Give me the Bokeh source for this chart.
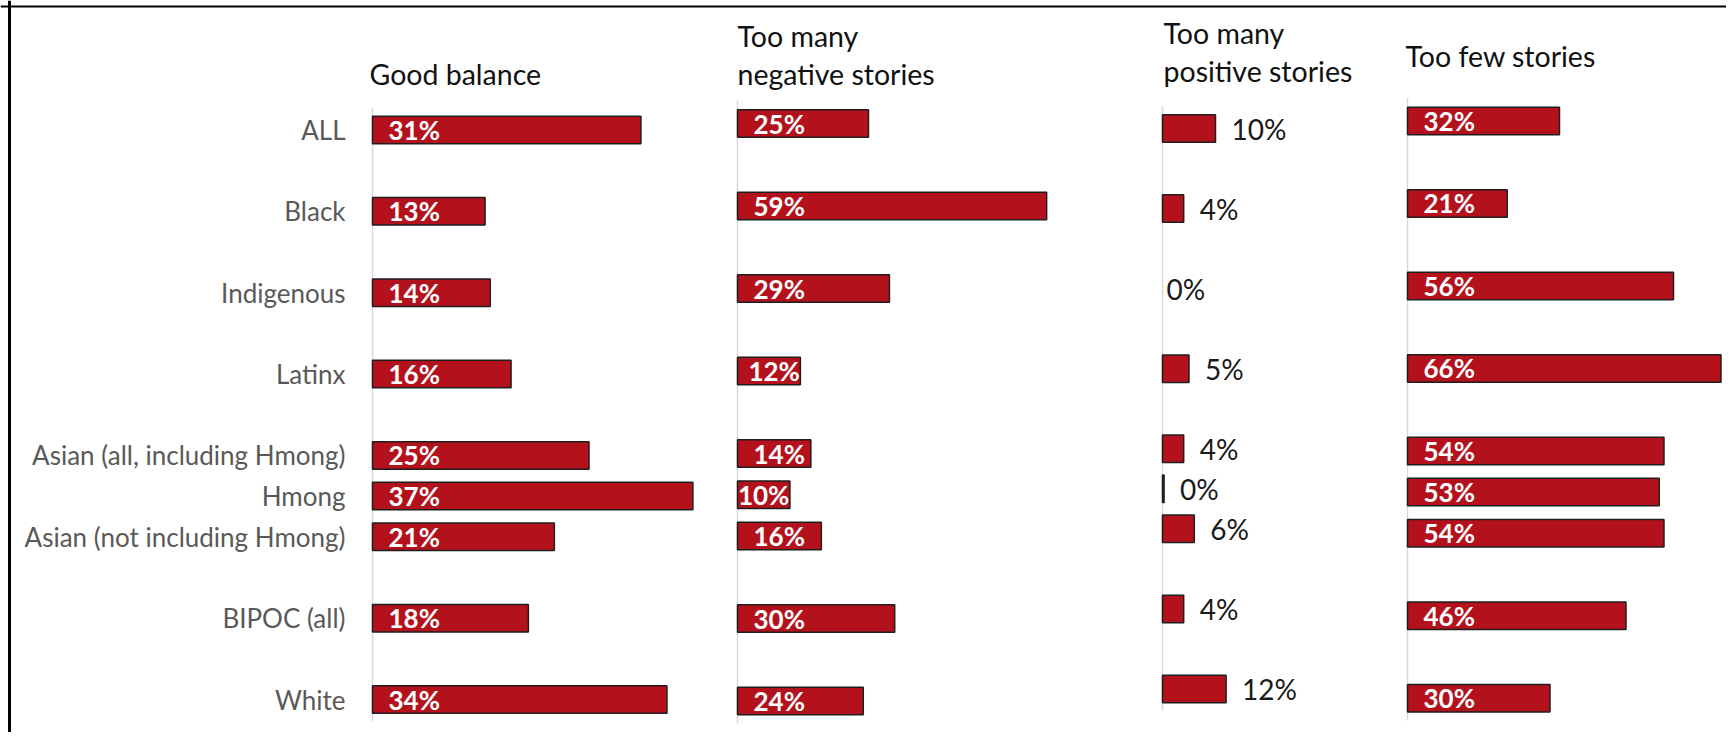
from bokeh.plotting import figure
from bokeh.models import Range1d, ColumnDataSource, Span
from bokeh.embed import file_html
from bokeh.resources import INLINE
from bokeh.core.properties import value

# ---------------- data ----------------
groups = ["ALL", "Black", "Indigenous", "Latinx", "Asian (all, including Hmong)",
          "Hmong", "Asian (not including Hmong)", "BIPOC (all)", "White"]
good_balance = [31, 13, 13.6, 16, 25, 37, 21, 18, 34]
too_many_negative = [25, 59, 29, 12, 14, 10, 16, 30, 24]
too_many_positive = [10, 4, 0, 5, 4, 0.3, 6, 4, 12]
too_few_stories = [32, 21, 56, 66, 54, 53, 54, 46, 30]
titles = [["Good balance"], ["Too many", "negative stories"],
          ["Too many", "positive stories"], ["Too few stories"]]

# ---------------- layout ----------------
slots = [0, 1, 2, 3, 4, 4.5, 5, 6, 7]      # vertical slot of each group
W, H = 1726, 732
M = 0
FONT = "Lato"
BAR_FILL = "#B3121D"
BAR_LINE = "#1f1f1f"
panels = [
    dict(vals=good_balance, ax=372, k=8.66, y0=129.5, y7=699.0, tx=-3, ty=[73], inside=True),
    dict(vals=too_many_negative, ax=737, k=5.24, y0=123.0, y7=700.6, tx=0, ty=[35, 73], inside=True),
    dict(vals=too_many_positive, ax=1162, k=5.3, y0=128.0, y7=688.5, tx=1, ty=[32, 70], inside=False),
    dict(vals=too_few_stories, ax=1407, k=4.75, y0=120.5, y7=697.8, tx=-2, ty=[55], inside=True),
]
BAR_H = 27.5
PAD_IN = 16
LABEL_W = 52
PAD_OUT = 16

p = figure(width=W, height=H, output_backend="svg", toolbar_location=None,
           x_axis_type=None, y_axis_type=None,
           x_range=Range1d(0, W), y_range=Range1d(H, 0), min_border=0)
p.grid.visible = False
p.outline_line_color = None
p.background_fill_color = "white"
p.border_fill_color = "white"

# outer frame (left and top edges visible in the reference)
p.add_layout(Span(location=9, dimension="height", line_color="black", line_width=3))
p.add_layout(Span(location=6, dimension="width", line_color="black", line_width=2))

for i, pn in enumerate(panels):
    xr, yr = f"x{i}", f"y{i}"
    ax_f = pn["ax"] - M
    k = pn["k"]
    sp = (pn["y7"] - pn["y0"]) / 7.0
    top_px = pn["y0"] - M
    s_top = -top_px / sp
    s_bot = s_top + H / sp
    p.extra_x_ranges[xr] = Range1d(start=-ax_f / k, end=(W - ax_f) / k)
    p.extra_y_ranges[yr] = Range1d(start=s_bot, end=s_top)

    vals = pn["vals"]
    labels = [f"{round(v)}%" for v in vals]
    line_alpha = [0.0 if v == 0 else 1.0 for v in vals]
    if pn["inside"]:
        fits = [v * k >= PAD_IN + LABEL_W for v in vals]
        lx = [0 if f else v for f, v in zip(fits, vals)]
        loff = [PAD_IN if f else -LABEL_W for f in fits]
    else:
        lx = list(vals)
        loff = [PAD_OUT if v > 0 else 4 for v in vals]
    src = ColumnDataSource(dict(slot=slots, v=vals, group=groups, lab=labels,
                                la=line_alpha, lx=lx, loff=loff))

    # axis line
    p.segment(x0=0, x1=0, y0=-0.28, y1=7.27, line_color="#d9d9d9", line_width=1.5,
              x_range_name=xr, y_range_name=yr)
    # bars
    p.hbar(y="slot", left=0, right="v", height=BAR_H / sp, source=src,
           fill_color=BAR_FILL, line_color=BAR_LINE, line_width=1.5, line_alpha="la",
           x_range_name=xr, y_range_name=yr)
    # value labels
    if pn["inside"]:
        p.text(x="lx", y="slot", text="lab", x_offset="loff", source=src,
               text_font=value(FONT), text_font_style="bold", text_font_size="26px",
               text_color="white", text_align="left", text_baseline="middle",
               x_range_name=xr, y_range_name=yr)
    else:
        p.text(x="lx", y="slot", text="lab", x_offset="loff", source=src,
               text_font=value(FONT), text_font_size="28px",
               text_color="#1a1a1a", text_align="left", text_baseline="middle",
               x_range_name=xr, y_range_name=yr)
    # titles
    tsrc = ColumnDataSource(dict(x=[0] * len(titles[i]),
                                 y=[t - M for t in pn["ty"]],
                                 t=titles[i]))
    p.text(x="x", y="y", text="t", source=tsrc, x_offset=pn["tx"],
           text_font=value(FONT), text_font_size="28.5px", text_color="#111111",
           text_align="left", text_baseline="alphabetic",
           x_range_name=xr)
    # category labels on the first panel
    if i == 0:
        p.text(x=0, y="slot", text="group", source=src, x_offset=-27,
               text_font=value(FONT), text_font_size="26px", text_color="#595959",
               text_align="right", text_baseline="middle",
               x_range_name=xr, y_range_name=yr)

open("out.html", "w").write(file_html(p, INLINE))
